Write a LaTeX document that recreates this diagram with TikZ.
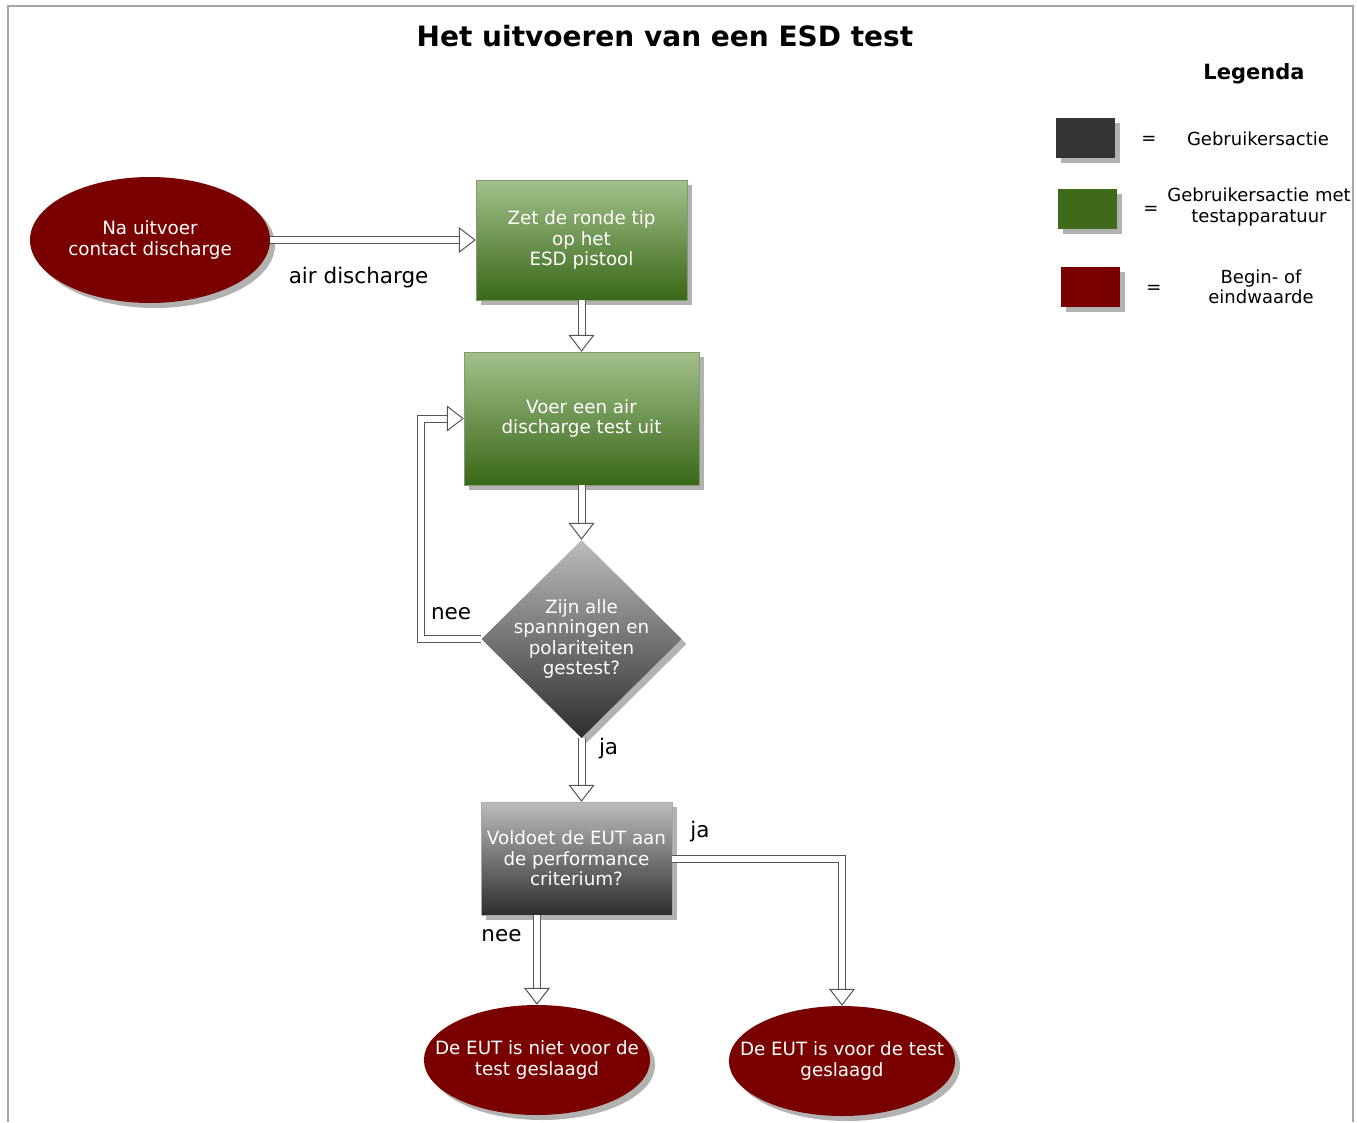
\documentclass[tikz,border=0pt]{standalone}
\usepackage{fontspec}
\setmainfont{DejaVu Sans}
\usetikzlibrary{shapes.geometric, arrows.meta, shadows, positioning}

\definecolor{donkerrood}{RGB}{122,0,0}
\definecolor{groenlicht}{RGB}{162,192,138}
\definecolor{groendonker}{RGB}{58,104,24}
\definecolor{grijslicht}{RGB}{188,188,188}
\definecolor{grijsdonker}{RGB}{45,45,45}
\definecolor{legendagroen}{RGB}{62,106,26}
\definecolor{legendagrijs}{RGB}{52,52,52}
\definecolor{pijlgrijs}{RGB}{85,85,85}

\begin{document}
\begin{tikzpicture}[x=1pt, y=-1pt,
                  schaduw/.style={drop shadow={shadow xshift=5pt,
                      shadow yshift=-5pt, fill=black!30, opacity=1}},
                  tekst/.style={text=white, align=center,
                      font=\fontsize{18.3}{20.5}\selectfont},
                  eind/.style={ellipse, fill=donkerrood, schaduw, tekst,
                      inner sep=0pt},
                  groen/.style={rectangle, draw=groenlicht!80!black,
                      top color=groenlicht, bottom color=groendonker,
                      schaduw, tekst, inner sep=0pt},
                  grijs/.style={rectangle, draw=grijslicht!90!black,
                      top color=grijslicht, bottom color=grijsdonker,
                      schaduw, tekst, inner sep=0pt},
                  pijl/.style={draw=pijlgrijs, line width=1pt, double=white,
                      double distance=6pt,
                      -{Triangle[open, fill=white, length=17pt, width=26pt]}},
                  lbl/.style={font=\fontsize{21.5}{23}\selectfont, inner sep=0pt},
                  leg/.style={font=\fontsize{18}{20.5}\selectfont, align=center},
                  vak/.style={minimum width=59pt, minimum height=40pt,
                      inner sep=0pt, schaduw}]

                  \useasboundingbox (0,0) rectangle (1357,1122);
                  \draw[black!35, line width=1.5pt]
                  (8,1122) -- (8,6) -- (1353,6) -- (1353,1122);

                  % Titel en legenda.
                  \node[font=\fontsize{28}{30}\selectfont\bfseries] (titel)
                  at (665,36) {Het uitvoeren van een ESD test};
                  \node[font=\fontsize{21}{24}\selectfont\bfseries] (legenda)
                  at (1254,74) {Legenda};
                  \node[vak, fill=legendagrijs] (vak1) at (1085.5,138) {};
                  \node[vak, fill=legendagroen] (vak2) at (1087.5,209) {};
                  \node[vak, fill=donkerrood] (vak3) at (1090.5,287) {};
                  \node[leg] (is1) at (1149,140) {=};
                  \node[leg] (is2) at (1151,210) {=};
                  \node[leg] (is3) at (1154,289) {=};
                  \node[leg] (uitleg1) at (1258,139) {Gebruikersactie};
                  \node[leg] (uitleg2) at (1259,207)
                  {Gebruikersactie met\\testapparatuur};
                  \node[leg] (uitleg3) at (1261,287) {Begin- of\\eindwaarde};

                  % Knopen van het stroomschema.
                  \node[eind, minimum width=240pt, minimum height=126pt]
                  (start) at (150,240) {Na uitvoer\\contact discharge};
                  \node[groen, minimum width=211pt, minimum height=120pt]
                  (zet) at (581.5,240) {Zet de ronde tip\\op het\\ESD pistool};
                  \node[groen, minimum width=235pt, minimum height=133pt]
                  (voer) at (581.5,418.5) {Voer een air\\discharge test uit};
                  \node[diamond, aspect=1, minimum width=200pt,
                  minimum height=198pt, inner sep=0pt, top color=grijslicht,
                  bottom color=grijsdonker, schaduw,
                  label={[tekst]center:{Zijn alle\\spanningen en\\polariteiten\\gestest?}}]
                  (ruit) at (581.5,639) {};
                  \node[grijs, minimum width=191pt, minimum height=113pt]
                  (voldoet) at (576.5,858.5)
                  {Voldoet de EUT aan\\de performance\\criterium?};
                  \node[eind, inner sep=-22pt, minimum width=222pt,
                  minimum height=110pt] (niet) at (537,1060)
                  {De EUT is niet voor de\\test geslaagd};
                  \node[eind, inner sep=-22pt, minimum width=222pt,
                  minimum height=110pt] (wel) at (842,1061)
                  {De EUT is voor de test\\geslaagd};
                  \coordinate (lus) at (421,639);

                  % Verbindingen tussen de knopen.
                  \draw[pijl] (start) -- node[lbl, pos=0.43, below=27pt]
                  {air discharge} (zet);
                  \draw[pijl] (zet) -- (voer);
                  \draw[pijl] (voer) -- (ruit);
                  \draw[pijl] (ruit.west) -- node[lbl, above=19pt]{nee} (lus)
                  |- (voer.west);
                  \draw[pijl] (ruit.south) -- node[lbl, pos=0.16, right=17pt]
                  {ja} (ruit.south |- voldoet.north);
                  \draw[pijl] (voldoet.east) -| node[lbl, pos=0.082, above=16pt]
                  {ja} (wel.north);
                  \draw[pijl] (voldoet.south -| niet.north) -- node[lbl, pos=0.23,
                  left=15pt] {nee} (niet.north);

                \end{tikzpicture}
\end{document}
